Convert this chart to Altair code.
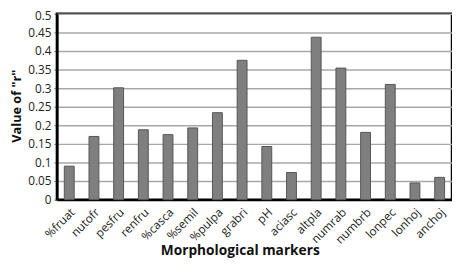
import altair as alt
import pandas as pd

markers = ["%fruat", "nutofr", "pesfru", "renfru", "%casca", "%semil", "%pulpa", "grabri",
           "pH", "aciasc", "altpla", "numrab", "numbrb", "lonpec", "lonhoj", "anchoj"]
r_values = [0.090, 0.170, 0.301, 0.188, 0.175, 0.193, 0.234, 0.375,
            0.143, 0.073, 0.437, 0.354, 0.181, 0.310, 0.045, 0.060]
y_ticks = [0, 0.05, 0.1, 0.15, 0.2, 0.25, 0.3, 0.35, 0.4, 0.45, 0.5]

df = pd.DataFrame({"marker": markers, "r": r_values})

FONT = "Open Sans"

chart = alt.Chart(df).mark_bar(
    color="#7f7f7f", stroke="#555555", strokeWidth=1
).encode(
    x=alt.X("marker:N", sort=markers,
            scale=alt.Scale(paddingInner=0.6, paddingOuter=0.3),
            axis=alt.Axis(title="Morphological markers", labelAngle=-45,
                          labelFont=FONT, labelFontSize=12, labelColor="#222222",
                          labelPadding=7, ticks=False, domain=True,
                          domainColor="black", domainWidth=2.5,
                          titleFont=FONT, titleFontSize=14, titleFontWeight="bold",
                          titleColor="#111111", titleX=187, titleY=52,
                          titleAlign="center", titleBaseline="middle")),
    y=alt.Y("r:Q", scale=alt.Scale(domain=[0, 0.5], nice=False),
            axis=alt.Axis(title='Value of  "r"', values=y_ticks,
                          format="~g", labelFont=FONT, labelFontSize=12,
                          labelColor="#222222", labelPadding=3,
                          labelOffset={"condition": {"test": "datum.value >= 0.5", "value": 2}, "value": 0},
                          tickSize=3, tickColor="#555555",
                          domainColor="black", domainWidth=2.5,
                          gridColor="#a8a8a8", gridWidth=1.5,
                          titleFont=FONT, titleFontSize=13, titleFontWeight="bold",
                          titleColor="#111111", titleX=-41, titleY=94,
                          titleAlign="center", titleBaseline="middle", titleAngle=-90)),
).properties(
    width=404, height=190,
    autosize=alt.AutoSizeParams(type="none"),
    padding={"left": 50, "top": 3, "right": 0, "bottom": 70},
).configure_view(
    stroke="black", strokeWidth=2.5
)

chart.save("out.html", embed_options={"renderer": "svg", "actions": False})
